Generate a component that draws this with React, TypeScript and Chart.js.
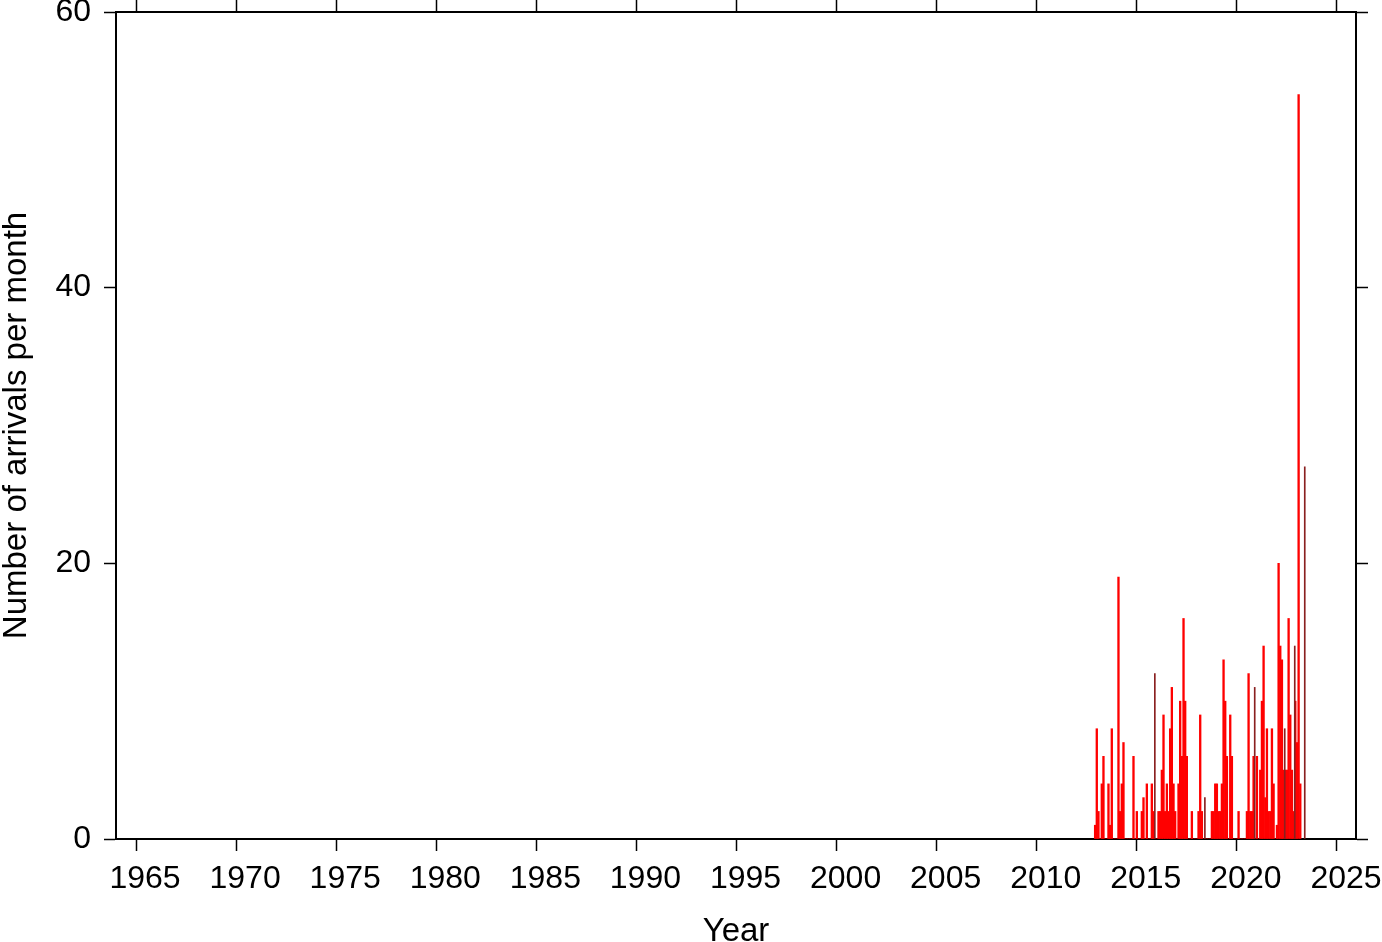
import React, { useEffect, useRef } from 'react';
import { Chart, registerables } from 'chart.js';

Chart.register(...registerables);

// Monthly arrivals, starting December 2012
const monthlyStartYear = 2012;
const monthlyStartMonthIndex = 11;
const monthlyArrivals = [
  1, 8, 2, 0, 4, 6, 0, 0, 4, 1, 8, 0, 0, 0, 19, 2, 4, 7, 0, 0,
  0, 0, 0, 6, 0, 2, 0, 0, 2, 3, 0, 4, 0, 0, 4, 2, 0, 0, 2, 2,
  5, 9, 2, 4, 2, 8, 11, 4, 2, 0, 4, 10, 6, 16, 10, 6, 0, 0, 2, 0,
  0, 0, 2, 9, 2, 0, 0, 0, 0, 0, 2, 2, 4, 4, 2, 2, 4, 13, 10, 6,
  0, 9, 6, 0, 0, 0, 2, 0, 0, 0, 0, 2, 12, 2, 2, 6, 0, 6, 0, 5,
  10, 14, 3, 8, 2, 2, 8, 4, 0, 1, 20, 14, 13, 5, 5, 5, 16, 9, 5, 2,
  10, 7, 54, 4,
];

// Thin darker bars
const extraYears = [2015.9, 2018.4, 2020.89, 2022.39, 2022.89, 2023.39];
const extraArrivals = [12, 3, 11, 8, 14, 27];

const xTickValues = [1965, 1970, 1975, 1980, 1985, 1990, 1995, 2000, 2005, 2010, 2015, 2020, 2025];
const yTickValues = [0, 20, 40, 60];
const xMin = 1964.0;
const xMax = 2025.95;
const yMin = 0;
const yMax = 60;

const FONT = '"Liberation Sans", Arial, Helvetica, sans-serif';

export default function App() {
  const ref = useRef<HTMLCanvasElement | null>(null);

  useEffect(() => {
    const canvas = ref.current;
    if (!canvas) return;

    const redPoints = monthlyArrivals.map((v, i) => ({
      x: monthlyStartYear + (monthlyStartMonthIndex + i) / 12,
      y: v,
    }));
    const extraPoints = extraYears.map((x, i) => ({ x, y: extraArrivals[i] }));

    const setTicks = (vals: number[]) => (scale: any) => {
      scale.ticks = vals.map((v) => ({ value: v }));
    };

    const borderOpt = { display: true, color: '#000', width: 2 };
    const gridOpt = {
      drawOnChartArea: false,
      drawTicks: true,
      offset: false,
      tickLength: 12,
      tickWidth: 1.5,
      tickColor: '#000',
    };
    const fitV = (w: number) => (s: any) => {
      s.width = w;
      s.paddingTop = 0;
      s.paddingBottom = 0;
    };
    const fitH = (h: number) => (s: any) => {
      s.height = h;
      s.paddingLeft = 0;
      s.paddingRight = 0;
    };

    const chart = new Chart(canvas, {
      type: 'bar',
      data: {
        datasets: [
          {
            label: 'extra',
            data: extraPoints as any,
            backgroundColor: '#8a2020',
            barThickness: 1,
            grouped: false,
            order: 0,
            xAxisID: 'x',
            yAxisID: 'y',
          } as any,
          {
            label: 'arrivals',
            data: redPoints as any,
            backgroundColor: '#ff0000',
            barThickness: 1.67,
            grouped: false,
            order: 1,
            xAxisID: 'x',
            yAxisID: 'y',
          } as any,
        ],
      },
      options: {
        animation: false,
        responsive: false,
        maintainAspectRatio: false,
        layout: { padding: 0 },
        plugins: {
          legend: { display: false },
          tooltip: { enabled: false },
        },
        scales: {
          x: {
            type: 'linear',
            position: 'bottom',
            offset: false,
            min: xMin,
            max: xMax,
            afterBuildTicks: setTicks(xTickValues),
            afterFit: fitH(103),
            border: borderOpt,
            grid: gridOpt,
            ticks: {
              color: '#000',
              padding: 9,
              labelOffset: 9,
              maxRotation: 0,
              autoSkip: false,
              font: { family: FONT, size: 32 },
              callback: (v: any) => String(v),
            },
            title: {
              display: true,
              text: 'Year',
              color: '#000',
              font: { family: FONT, size: 33, lineHeight: 0.6 },
              padding: 0,
            },
          },
          x2: {
            type: 'linear',
            position: 'top',
            offset: false,
            min: xMin,
            max: xMax,
            afterBuildTicks: setTicks(xTickValues),
            afterFit: fitH(12),
            border: borderOpt,
            grid: gridOpt,
            ticks: { display: false },
          },
          y: {
            type: 'linear',
            position: 'left',
            min: yMin,
            max: yMax,
            afterBuildTicks: setTicks(yTickValues),
            afterFit: fitV(116),
            border: borderOpt,
            grid: gridOpt,
            ticks: {
              color: '#000',
              padding: 13,
              font: { family: FONT, size: 32 },
              callback: (v: any) => String(v),
            },
            title: {
              display: true,
              text: 'Number of arrivals per month',
              color: '#000',
              font: { family: FONT, size: 33, lineHeight: 1 },
              padding: 0,
            },
          },
          y2: {
            type: 'linear',
            position: 'right',
            min: yMin,
            max: yMax,
            afterBuildTicks: setTicks(yTickValues),
            afterFit: fitV(26),
            border: borderOpt,
            grid: gridOpt,
            ticks: { display: false },
          },
        },
      } as any,
    });

    return () => chart.destroy();
  }, []);

  return (
    <div style={{ position: 'absolute', left: 0, top: 0, width: 1382, height: 942, background: '#fff' }}>
      <canvas ref={ref} width={1382} height={942} style={{ display: 'block' }} />
    </div>
  );
}
